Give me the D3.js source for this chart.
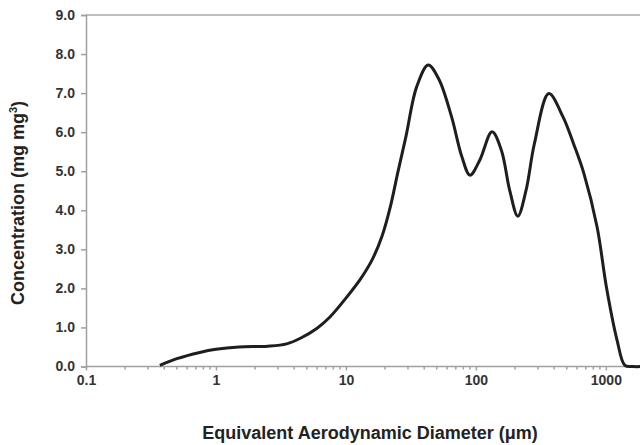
<!DOCTYPE html>
<html>
<head>
    <meta charset="UTF-8">
    <title></title>
    <script src="https://cdn.jsdelivr.net/npm/d3@7"></script>
    <style>
        body{
            padding: 0;
            margin: 0;
            background: #fff;
        }
        .axis path,
        .axis line{
            fill: none;
            stroke: #a0a0a0;
            stroke-width: 1.5px;
        }
        .axis text{
            font-family: "Liberation Sans", Arial, sans-serif;
            font-size: 14px;
            font-weight: bold;
            fill: #333;
        }
        .title{
            font-family: "Liberation Sans", Arial, sans-serif;
            font-size: 18px;
            font-weight: bold;
            fill: #222;
        }
    </style>
</head>
<body>
<script>

    // diameter (um) and concentration
    var diameter = [0.37, 0.5, 0.75, 1.0, 1.5, 2.5, 3.5, 4.5, 6, 7.5, 10, 13, 16, 19, 22, 25, 29, 35,
        43, 52, 65, 78, 90, 107, 133, 157, 182, 210, 243, 282, 364, 468, 563, 678, 856, 1010, 1220, 1400, 1600, 2000];
    var conc = [0.03, 0.2, 0.36, 0.44, 0.5, 0.52, 0.58, 0.73, 0.98, 1.26, 1.75, 2.25, 2.75, 3.35, 4.1, 4.95, 5.9, 7.16,
        7.72, 7.35, 6.39, 5.37, 4.9, 5.28, 6.01, 5.54, 4.51, 3.85, 4.51, 5.71, 6.99, 6.39, 5.71, 4.94, 3.57, 2.03, 0.67, 0.03, 0, 0];

    var xTicks = [0.1, 1, 10, 100, 1000];
    var yTicks = [0, 1, 2, 3, 4, 5, 6, 7, 8, 9];

    var svg = d3.select("body")
        .append("svg")
        .attr("width", 640)
        .attr("height", 445);

    var x = d3.scaleLog()
        .domain([0.1, 2000])
        .range([86, 645]);

    var y = d3.scaleLinear()
        .domain([0, 9])
        .range([366.5, 15]);

    // top border
    svg.append("line")
        .attr("x1", x(0.1)).attr("x2", 640)
        .attr("y1", y(9)).attr("y2", y(9))
        .attr("stroke", "#c0c0c0")
        .attr("stroke-width", 2);

    // minor ticks
    var minor = [];
    for (var d = 0.1; d < 2000; d *= 10) {
        for (var k = 2; k <= 9; k++) {
            if (d * k <= 2000) minor.push(d * k);
        }
    }

    var xAxis = d3.axisBottom(x)
        .tickValues(xTicks)
        .tickFormat(function(d){ return d >= 1 ? d3.format("d")(d) : d; })
        .tickSize(4)
        .tickPadding(5);

    var gx = svg.append("g")
        .attr("class", "axis")
        .attr("transform", "translate(0," + y(0) + ")")
        .call(xAxis);
    gx.select(".domain").attr("d", "M" + x(0.1) + ",0H640");

    gx.selectAll(".minor")
        .data(minor)
        .enter()
        .append("line")
        .attr("class", "minor")
        .attr("x1", function(d){ return x(d); })
        .attr("x2", function(d){ return x(d); })
        .attr("y1", 0)
        .attr("y2", 3);

    var yAxis = d3.axisLeft(y)
        .tickValues(yTicks)
        .tickFormat(d3.format(".1f"))
        .tickSize(5)
        .tickPadding(6);

    svg.append("g")
        .attr("class", "axis")
        .attr("transform", "translate(" + x(0.1) + ",0)")
        .call(yAxis);

    var line = d3.line()
        .x(function(d, i){ return x(diameter[i]); })
        .y(function(d){ return y(Math.max(0, d)); })
        .curve(d3.curveCatmullRom.alpha(0.5));

    svg.append("path")
        .datum(conc)
        .attr("d", line)
        .attr("fill", "none")
        .attr("stroke", "#1e1e1e")
        .attr("stroke-width", 3);

    svg.append("text")
        .attr("class", "title")
        .attr("x", 370)
        .attr("y", 439)
        .attr("text-anchor", "middle")
        .text("Equivalent Aerodynamic Diameter (\u03bcm)");

    var yt = svg.append("text")
        .attr("class", "title")
        .attr("transform", "translate(24,203) rotate(-90)")
        .attr("text-anchor", "middle");
    yt.append("tspan").text("Concentration (mg mg");
    yt.append("tspan").attr("dy", -7).style("font-size", "11px").text("3");
    yt.append("tspan").attr("dy", 7).text(")");

</script>
</body>
</html>
